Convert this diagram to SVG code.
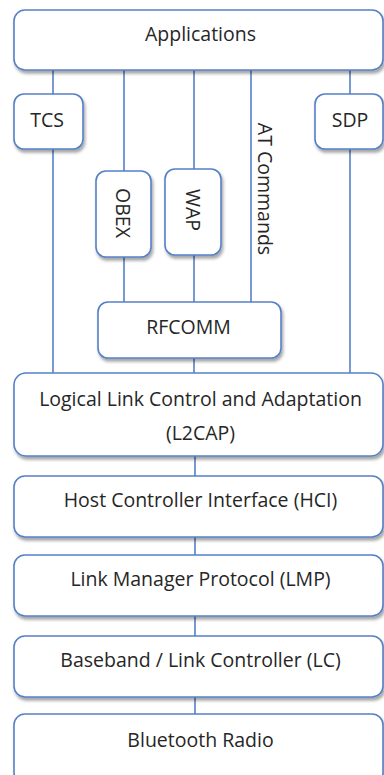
<svg xmlns="http://www.w3.org/2000/svg" width="384" height="775" viewBox="0 0 384 775">
<style>
.box{fill:#ffffff;stroke:#5580C8;stroke-width:1.6;filter:url(#sh)}
.ln{stroke:#5580C8;stroke-width:1.6;fill:none}
text{font-family:"Open Sans","Liberation Sans",sans-serif;font-size:19.5px;fill:#262626;text-anchor:middle}
.v{dominant-baseline:central}
</style>
<defs>
<filter id="sh" x="-10%" y="-10%" width="130%" height="140%">
<feDropShadow dx="1.5" dy="3" stdDeviation="1.8" flood-color="#000" flood-opacity="0.35"/>
</filter>
</defs>
<rect width="384" height="775" fill="#ffffff"/>
<g id="connectors">
<line class="ln" x1="53" y1="70" x2="53" y2="94"/>
<line class="ln" x1="53" y1="149" x2="53" y2="373"/>
<line class="ln" x1="124" y1="70" x2="124" y2="171"/>
<line class="ln" x1="124" y1="257" x2="124" y2="302"/>
<line class="ln" x1="194" y1="70" x2="194" y2="169"/>
<line class="ln" x1="194" y1="255" x2="194" y2="302"/>
<line class="ln" x1="194" y1="358" x2="194" y2="373"/>
<line class="ln" x1="251" y1="70" x2="251" y2="302"/>
<line class="ln" x1="350" y1="70" x2="350" y2="94"/>
<line class="ln" x1="350" y1="149" x2="350" y2="373"/>
<line class="ln" x1="195" y1="456" x2="195" y2="476"/>
<line class="ln" x1="195" y1="537" x2="195" y2="555"/>
<line class="ln" x1="195" y1="616" x2="195" y2="636"/>
<line class="ln" x1="195" y1="697" x2="195" y2="714"/>
</g>
<g id="applications"><rect class="box" x="14" y="10" width="369" height="60" rx="11"/><text x="200.5" y="41">Applications</text></g>
<g id="tcs"><rect class="box" x="14" y="94" width="69" height="55" rx="10"/><text x="47" y="127">TCS</text></g>
<g id="sdp"><rect class="box" x="315" y="94" width="68" height="55" rx="10"/><text x="350" y="127">SDP</text></g>
<g id="obex"><rect class="box" x="96" y="171" width="55" height="86" rx="10"/><text class="v" transform="translate(123.5,213) rotate(90)">OBEX</text></g>
<g id="wap"><rect class="box" x="165" y="169" width="56" height="86" rx="10"/><text class="v" transform="translate(193,210) rotate(90)">WAP</text></g>
<g id="at-commands"><text class="v" transform="translate(265,189) rotate(90)">AT Commands</text></g>
<g id="rfcomm"><rect class="box" x="98" y="302" width="183" height="56" rx="10"/><text x="188.5" y="334">RFCOMM</text></g>
<g id="l2cap"><rect class="box" x="14" y="373" width="369" height="83" rx="12"/><text x="200.5" y="406">Logical Link Control and Adaptation</text><text x="200.5" y="440">(L2CAP)</text></g>
<g id="hci"><rect class="box" x="14" y="476" width="369" height="61" rx="11"/><text x="200.5" y="507">Host Controller Interface (HCI)</text></g>
<g id="lmp"><rect class="box" x="14" y="555" width="369" height="61" rx="11"/><text x="200.5" y="586">Link Manager Protocol (LMP)</text></g>
<g id="baseband"><rect class="box" x="14" y="636" width="369" height="61" rx="11"/><text x="200.5" y="667">Baseband / Link Controller (LC)</text></g>
<g id="radio"><rect class="box" x="14" y="714" width="369" height="70" rx="11"/><text x="200.5" y="747">Bluetooth Radio</text></g>
</svg>
